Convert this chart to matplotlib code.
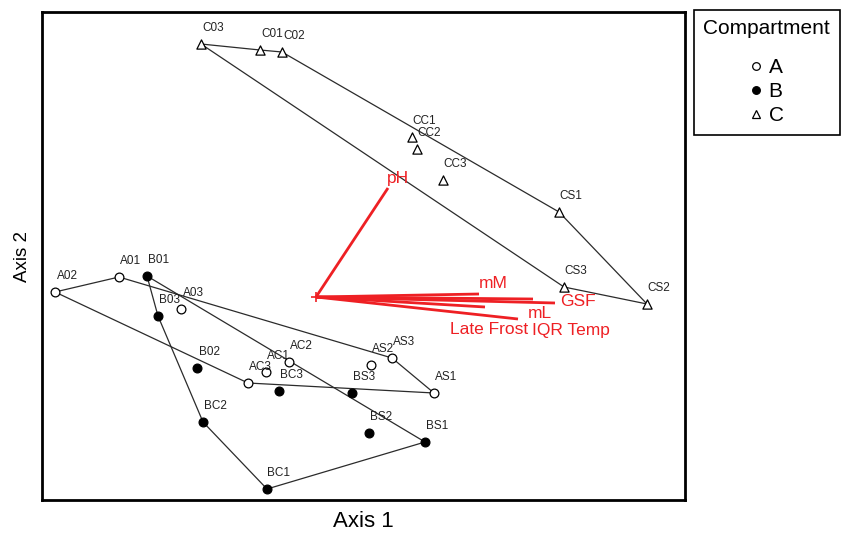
"""Ordination biplot: samples by compartment, convex hulls, env vectors."""
import matplotlib

matplotlib.use("Agg")
import matplotlib.pyplot as plt
from matplotlib.lines import Line2D

plt.rcParams["font.family"] = ["Liberation Sans", "DejaVu Sans"]

# sample scores (Axis 1, Axis 2)
a_names = ["A01", "A02", "A03", "AC1", "AC2", "AC3", "AS1", "AS2", "AS3"]
a_x = [-1.97, -2.61, -1.35, -0.50, -0.27, -0.68, 1.18, 0.55, 0.76]
a_y = [0.20, 0.05, -0.12, -0.75, -0.65, -0.86, -0.96, -0.68, -0.61]

b_names = ["B01", "B02", "B03", "BC1", "BC2", "BC3", "BS1", "BS2", "BS3"]
b_x = [-1.69, -1.19, -1.58, -0.49, -1.13, -0.37, 1.09, 0.53, 0.36]
b_y = [0.21, -0.71, -0.19, -1.92, -1.25, -0.94, -1.45, -1.36, -0.96]

c_names = ["C01", "C02", "C03", "CC1", "CC2", "CC3", "CS1", "CS2", "CS3"]
c_x = [-0.56, -0.34, -1.15, 0.96, 1.01, 1.27, 2.43, 3.31, 2.48]
c_y = [2.47, 2.45, 2.53, 1.60, 1.48, 1.17, 0.85, -0.07, 0.10]

# hull vertex order per compartment
a_hull = ["A02", "A01", "AS3", "AS1", "AC3"]
b_hull = ["B01", "BS1", "BC1", "BC2", "B03"]
c_hull = ["C03", "C01", "C02", "CS1", "CS2", "CS3"]

# environmental vectors
vec_names = ["pH", "mM", "GSF", "mL", "Late Frost", "IQR Temp"]
vec_x = [0.72, 1.63, 2.39, 2.17, 1.69, 2.02]
vec_y = [1.09, 0.03, -0.06, -0.02, -0.10, -0.22]

# label offsets of vector names from arrow tips (pixels)
vec_offsets = {"pH": (10, 10), "mM": (14, 10), "GSF": (23, 2),
               "mL": (7, -15), "Late Frost": (4, -23), "IQR Temp": (53, -11)}

RED = "#ee2024"

fig = plt.figure(figsize=(8.42, 5.33), dpi=100)
ax = fig.add_axes([42 / 842, 1 - 500 / 533, 643 / 842, 488 / 533])


def draw_group(names, xs, ys, hull, marker, face, size):
    pos = dict(zip(names, zip(xs, ys)))
    hx = [pos[n][0] for n in hull] + [pos[hull[0]][0]]
    hy = [pos[n][1] for n in hull] + [pos[hull[0]][1]]
    ax.plot(hx, hy, color="#2b2b2b", lw=0.9, zorder=2)
    ax.scatter(xs, ys, marker=marker, s=size, facecolor=face, edgecolor="black",
               linewidth=0.9, zorder=3)
    for n, x, y in zip(names, xs, ys):
        ax.annotate(n, (x, y), xytext=(12, 16), textcoords="offset pixels",
                    ha="center", va="center", fontsize=8.5, color="#222222", zorder=4)


draw_group(a_names, a_x, a_y, a_hull, "o", "white", 40)
draw_group(b_names, b_x, b_y, b_hull, "o", "black", 40)
draw_group(c_names, c_x, c_y, c_hull, "^", "white", 44)

for n, vx, vy in zip(vec_names, vec_x, vec_y):
    ax.plot([0, vx], [0, vy], color=RED, lw=2, solid_capstyle="butt", zorder=5)
    ax.annotate(n, (vx, vy), xytext=vec_offsets[n], textcoords="offset pixels",
                ha="center", va="center", fontsize=12.5, color=RED, zorder=6)
ax.plot([0], [0], marker="+", ms=7, color=RED, mew=1.2, zorder=6)

ax.set_xlim(-2.74, 3.69)
ax.set_ylim(-2.03, 2.85)
ax.set_xticks([])
ax.set_yticks([])
for s in ax.spines.values():
    s.set_linewidth(2)
ax.set_xlabel("Axis 1", fontsize=16, labelpad=8)
ax.set_ylabel("Axis 2", fontsize=13.5, labelpad=8)

handles = [
    Line2D([], [], ls="none", marker="o", ms=5.5, mfc="white", mec="black", mew=0.9),
    Line2D([], [], ls="none", marker="o", ms=5.5, mfc="black", mec="black", mew=0.9),
    Line2D([], [], ls="none", marker="^", ms=6, mfc="white", mec="black", mew=0.9),
]
leg = fig.legend(handles, ["A", "B", "C"], title="Compartment",
                 loc="upper left", bbox_to_anchor=(694 / 842, 1 - 10 / 533),
                 borderaxespad=0, fontsize=15, title_fontsize=15,
                 handlelength=0.6, handletextpad=0.3, labelspacing=0.25,
                 borderpad=0.45, fancybox=False, edgecolor="black", framealpha=1)
leg.get_frame().set_linewidth(1.2)
leg._legend_box.sep = 14

fig.savefig("out.png", dpi=100)
